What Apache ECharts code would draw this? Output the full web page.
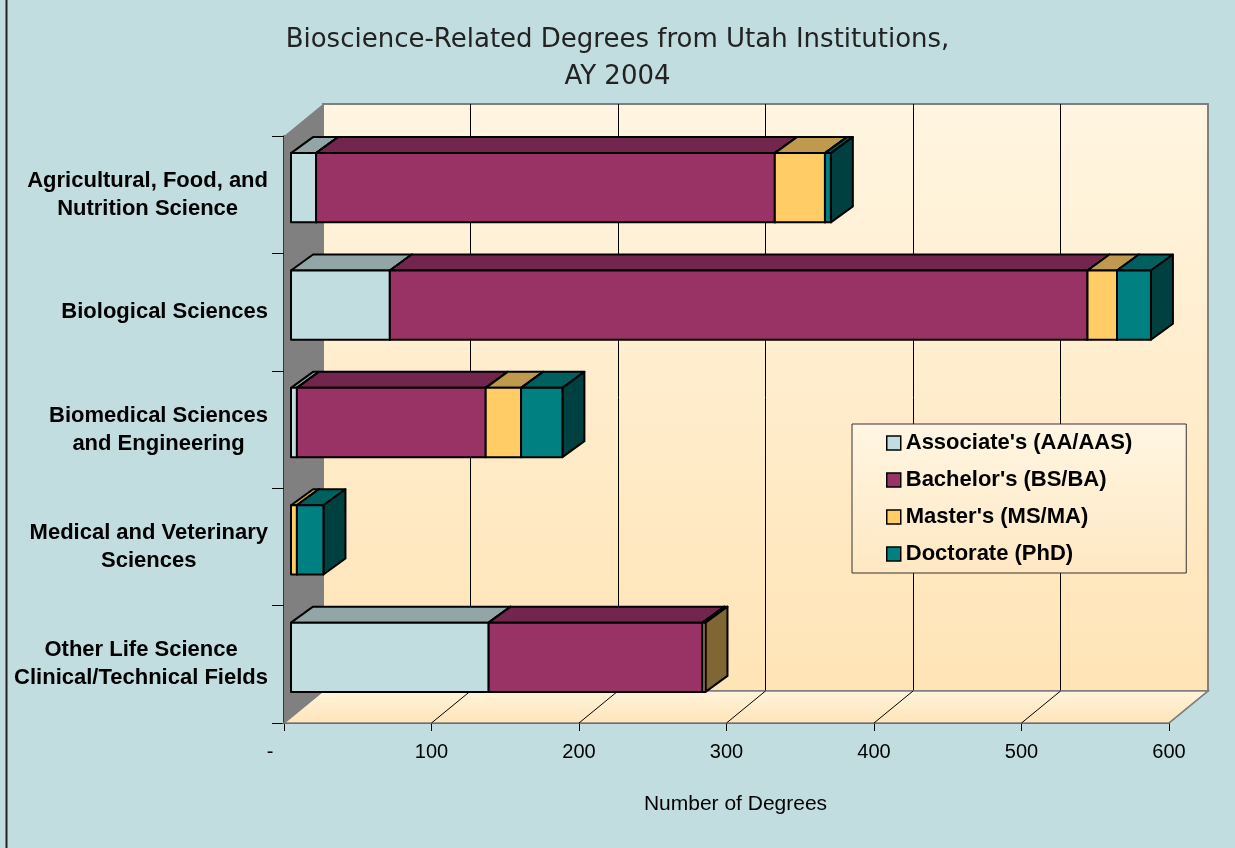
<!DOCTYPE html>
<html>
<head>
<meta charset="utf-8">
<title>Bioscience-Related Degrees from Utah Institutions, AY 2004</title>
<script src="https://cdn.jsdelivr.net/npm/echarts@6/dist/echarts.min.js"></script>
<style>
html,body{margin:0;padding:0;background:#c2dde0;}
#chart{width:1235px;height:848px;}
</style>
</head>
<body>
<div id="chart"></div>
<script>
// data
var categories=['Agricultural, Food, and\nNutrition Science','Biological Sciences','Biomedical Sciences\nand Engineering','Medical and Veterinary\nSciences','Other Life Science\nClinical/Technical Fields'];
var associate=[17,67,4,0,134];
var bachelor=[311,473,128,0,145];
var master=[34,20,24,4,2];
var doctorate=[4,23,28,18,0];
var levels=["Associate's (AA/AAS)","Bachelor's (BS/BA)","Master's (MS/MA)","Doctorate (PhD)"];
var colors=['#c2dde0','#993366','#ffcc66','#008080'];
var xTicks=[0,100,200,300,400,500,600];

var FONT='"Liberation Sans", Arial, sans-serif';
// oblique depth of the walls and of the bars
var WX=39,WY=-32;
var FX=7,FY=-7;
var DX=22,DY=-16;

function shade(hex,f){
	var n=parseInt(hex.slice(1),16);
	var r=Math.round((n>>16&255)*f),g=Math.round((n>>8&255)*f),b=Math.round((n&255)*f);
	return 'rgb('+r+','+g+','+b+')';
}

function barRender(color){
	var top=shade(color,0.75),side=shade(color,0.5);
	return function(params,api){
		var a=api.coord([api.value(0),api.value(2)]);
		var b=api.coord([api.value(1),api.value(2)]);
		var h=api.size([0,1])[1]*0.59;
		var x0=a[0]+FX,x1=b[0]+FX,y0=a[1]+FY-h/2,y1=y0+h;
		var ln={stroke:'#000',lineWidth:2,lineJoin:'round'};
		return {type:'group',children:[
			{type:'polygon',shape:{points:[[x0,y0],[x0+DX,y0+DY],[x1+DX,y0+DY],[x1,y0]]},style:Object.assign({fill:top},ln)},
			{type:'polygon',shape:{points:[[x1,y0],[x1+DX,y0+DY],[x1+DX,y1+DY],[x1,y1]]},style:Object.assign({fill:side},ln)},
			{type:'rect',shape:{x:x0,y:y0,width:x1-x0,height:h},style:Object.assign({fill:color},ln)}
		]};
	};
}

var stacks=[associate,bachelor,master,doctorate];
var series=[];
stacks.forEach(function(arr,k){
	var data=[];
	for(var i=0;i<categories.length;i++){
		var base=0;
		for(var j=0;j<k;j++){base+=stacks[j][i];}
		if(arr[i]>0){data.push([base,base+arr[i],i]);}
	}
	series.push({
		type:'custom',name:levels[k],xAxisIndex:0,yAxisIndex:0,z:3,
		itemStyle:{color:colors[k]},
		encode:{x:[0,1],y:2},
		renderItem:barRender(colors[k]),
		data:data
	});
});

// left wall, floor and floor grid lines
series.unshift({
	type:'custom',name:'floor',xAxisIndex:0,yAxisIndex:0,z:1,silent:true,
	encode:{x:0},
	data:xTicks.map(function(v){return [v];}),
	renderItem:function(params,api){
		var cs=params.coordSys;
		var p=api.coord([api.value(0),0]);
		var yb=cs.y+cs.height;
		var kids=[];
		if(params.dataIndex===0){
			kids.push({type:'polygon',shape:{points:[[cs.x,cs.y],[cs.x+WX,cs.y+WY],[cs.x+WX,yb+WY],[cs.x,yb]]},style:{fill:'#808080'}});
			kids.push({type:'polygon',shape:{points:[[cs.x,yb],[cs.x+cs.width,yb],[cs.x+cs.width+WX,yb+WY],[cs.x+WX,yb+WY]]},
				style:{fill:new echarts.graphic.LinearGradient(0,0,0,1,[{offset:0,color:'#fff4dc'},{offset:1,color:'#ffe4b8'}]),stroke:'#808080',lineWidth:1.5}});
		}
		var end=params.dataIndex===0||params.dataIndex===xTicks.length-1;
		kids.push({type:'line',shape:{x1:p[0],y1:yb,x2:p[0]+WX,y2:yb+WY},style:{stroke:end?'#808080':'#000',lineWidth:end?1.5:1}});
		return {type:'group',children:kids};
	}
});

var chart=echarts.init(document.getElementById('chart'));
chart.setOption({
	animation:false,
	backgroundColor:'#c2dde0',
	title:{
		text:'Bioscience-Related Degrees from Utah Institutions,\nAY 2004',
		left:'center',top:17,
		textStyle:{fontFamily:'"DejaVu Sans", sans-serif',fontWeight:'normal',fontSize:26,lineHeight:37,color:'#222'}
	},
	legend:{
		orient:'vertical',left:852,top:424,
		itemWidth:14,itemHeight:14,itemGap:15,
		padding:[8,54,8,34],
		selectedMode:false,
		backgroundColor:new echarts.graphic.LinearGradient(0,0,0,1,[{offset:0,color:'#fff6e3'},{offset:1,color:'#ffe8c2'}]),
		borderColor:'#333',borderWidth:1,
		textStyle:{fontFamily:FONT,fontWeight:'bold',fontSize:22,color:'#000'},
		data:levels.map(function(n,i){
			return {name:n,icon:'rect',itemStyle:{color:colors[i],borderColor:'#000',borderWidth:1.5}};
		})
	},
	graphic:[{type:'line',shape:{x1:6.5,y1:0,x2:6.5,y2:848},style:{stroke:'#222',lineWidth:2}}],
	grid:[
		{left:284,top:136,width:885,height:587},
		{left:323,top:104,width:885,height:587,show:true,borderColor:'#808080',borderWidth:2,
			backgroundColor:new echarts.graphic.LinearGradient(0,0,0,1,[{offset:0,color:'#fff5e1'},{offset:1,color:'#ffe4b6'}])}
	],
	xAxis:[
		{type:'value',gridIndex:0,min:0,max:600,interval:100,
			axisLine:{show:true,lineStyle:{color:'#000',width:1.5}},
			axisTick:{show:true,length:8,lineStyle:{color:'#000'}},
			splitLine:{show:false},
			axisLabel:{margin:19,fontFamily:FONT,fontSize:20,color:'#000',
				formatter:function(v){return v===0?'{z|-}':String(v);},
				rich:{z:{fontFamily:FONT,fontSize:20,color:'#000',padding:[0,28,0,0]}}},
			name:'Number of Degrees',nameLocation:'middle',nameGap:71,
			nameTextStyle:{fontFamily:FONT,fontSize:21,color:'#000',padding:[0,0,0,18]}
		},
		{type:'value',gridIndex:1,min:0,max:600,interval:100,
			axisLine:{show:false},axisTick:{show:false},axisLabel:{show:false},
			splitLine:{show:true,showMinLine:false,showMaxLine:false,lineStyle:{color:'#000',width:1}}
		}
	],
	yAxis:[
		{type:'category',gridIndex:0,inverse:true,data:categories,
			axisLine:{show:true,lineStyle:{color:'#000',width:1.5}},
			axisTick:{show:true,length:12,lineStyle:{color:'#000'}},
			axisLabel:{margin:16,fontFamily:FONT,fontWeight:'bold',fontSize:22,color:'#000',
				formatter:function(v){return v.split('\n').map(function(s){return '{c|'+s+'}';}).join('\n');},
				rich:{c:{align:'center',fontFamily:FONT,fontWeight:'bold',fontSize:22,lineHeight:28,color:'#000'}}}
		},
		{type:'value',gridIndex:1,show:false}
	],
	series:series
});
</script>
</body>
</html>
